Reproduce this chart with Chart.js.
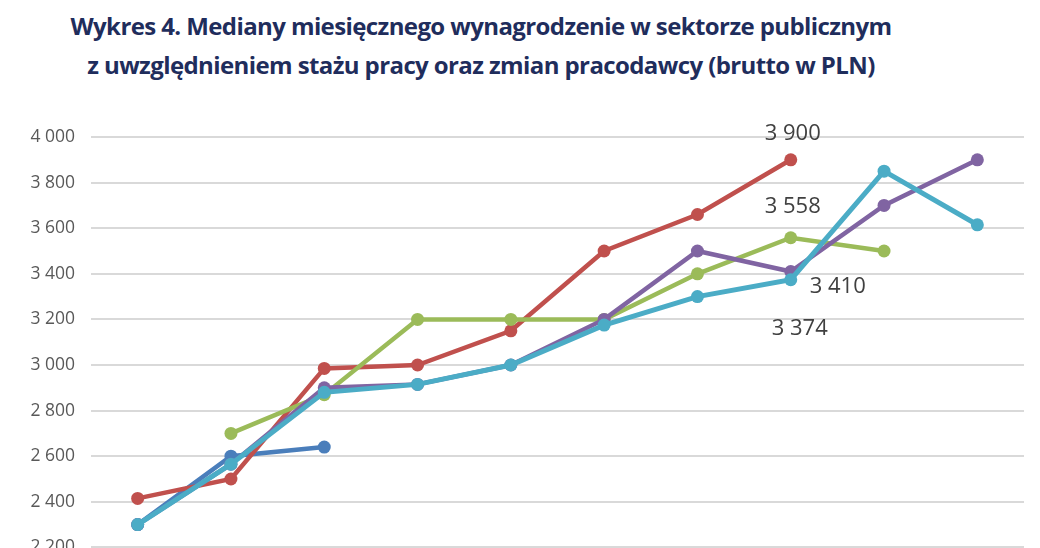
<!DOCTYPE html>
<html lang="pl">
<head>
<meta charset="utf-8">
<title>Wykres 4</title>
<script src="https://cdn.jsdelivr.net/npm/chart.js@4.4.1/dist/chart.umd.min.js"></script>
<style>
  html, body { margin: 0; padding: 0; background: #fff; overflow: hidden; }
  #title {
    position: absolute; left: 0; top: 6px; width: 962px;
    text-align: center; color: #1f2d5c;
    font-family: "Open Sans", sans-serif; font-weight: 700; font-size: 24px;
    line-height: 39px; letter-spacing: -0.6px;
  }
  #wrap { position: absolute; left: 0; top: 0; width: 1040px; height: 620px; }
</style>
</head>
<body>
<div id="title">Wykres 4. Mediany miesięcznego wynagrodzenie w sektorze publicznym<br>z uwzględnieniem stażu pracy oraz zmian pracodawcy (brutto w PLN)</div>
<div id="wrap"><canvas id="chart"></canvas></div>
<script>
// x categories are cut off below the visible part of the picture
const categories = ['1', '2', '3', '4', '5', '6', '7', '8', '9', '10'];
const seriesNames = ['Seria 1', 'Seria 2', 'Seria 3', 'Seria 4', 'Seria 5'];

const blueValues   = [2300, 2600, 2640, null, null, null, null, null, null, null];
const redValues    = [2415, 2500, 2985, 3000, 3150, 3500, 3660, 3900, null, null];
const greenValues  = [null, 2700, 2870, 3200, 3200, 3200, 3400, 3558, 3500, null];
const purpleValues = [2300, 2565, 2900, 2915, 3000, 3200, 3500, 3410, 3700, 3900];
const cyanValues   = [2300, 2565, 2880, 2915, 3000, 3175, 3300, 3374, 3850, 3615];

const yTicks = [2000, 2200, 2400, 2600, 2800, 3000, 3200, 3400, 3600, 3800, 4000];

// which points carry a value label: [dataset index, point index, dx, dy]
const labelledPoints = [
    [1, 7, 2, -26],
    [2, 7, 2, -31],
    [3, 7, 47, 15],
    [4, 7, 9, 49]
];

const colors = ['#4a7ebb', '#c0504d', '#9bbb59', '#8064a2', '#4bacc6'];
const allValues = [blueValues, redValues, greenValues, purpleValues, cyanValues];

function fmt(v) {
    return String(v).replace(/\B(?=(\d{3})+(?!\d))/g, ' ');
}

const valueLabels = {
    id: 'valueLabels',
    afterDatasetsDraw(chart) {
        const ctx = chart.ctx;
        ctx.save();
        ctx.font = '22px "Open Sans", sans-serif';
        ctx.fillStyle = '#404040';
        ctx.textAlign = 'center';
        ctx.textBaseline = 'middle';
        labelledPoints.forEach(([ds, i, dx, dy]) => {
            const pt = chart.getDatasetMeta(ds).data[i];
            ctx.fillText(fmt(chart.data.datasets[ds].data[i]), pt.x + dx, pt.y + dy);
        });
        ctx.restore();
    }
};

const datasets = allValues.map((vals, i) => ({
    label: seriesNames[i],
    data: vals,
    borderColor: colors[i],
    backgroundColor: colors[i],
    borderWidth: i === 4 ? 5 : 4.5,
    pointRadius: 6.5,
    pointHoverRadius: 6.5,
    pointBorderWidth: 0,
    tension: 0,
    spanGaps: false,
    order: 5 - i
}));

new Chart(document.getElementById('chart'), {
    type: 'line',
    data: { labels: categories, datasets: datasets },
    options: {
        responsive: true,
        maintainAspectRatio: false,
        animation: false,
        layout: { padding: { top: 137, right: 16, bottom: 27, left: 0 } },
        plugins: {
            legend: { display: false },
            tooltip: { enabled: false }
        },
        scales: {
            x: { display: false, offset: true },
            y: {
                min: yTicks[0],
                max: yTicks[yTicks.length - 1],
                afterBuildTicks: s => { s.ticks = yTicks.map(v => ({ value: v })); },
                afterFit: s => { s.width = 91; },
                border: { display: false },
                grid: { color: '#d9d9d9', lineWidth: 2, drawTicks: false },
                ticks: {
                    padding: 16,
                    color: '#595959',
                    font: { family: '"Open Sans", sans-serif', size: 17.5 },
                    callback: v => fmt(v)
                }
            }
        }
    },
    plugins: [valueLabels]
});
</script>
</body>
</html>
